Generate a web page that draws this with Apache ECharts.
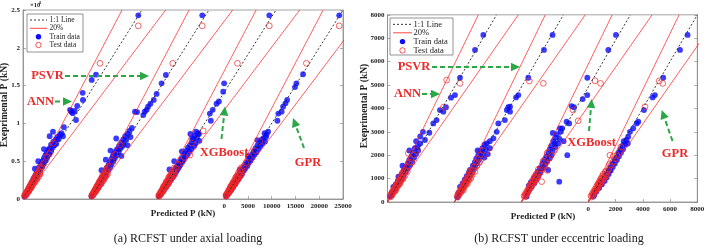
<!DOCTYPE html>
<html><head><meta charset="utf-8">
<script src="https://cdn.jsdelivr.net/npm/echarts@6/dist/echarts.min.js"></script>
<style>html,body{margin:0;padding:0;background:#fff}#c{width:708px;height:248px}</style>
</head><body><div id="c"></div>
<script>
// ---------------- DATA (values in 10^3 kN, pairs = [predicted, experimental]) ----------------
const models = ['ANN', 'PSVR', 'XGBoost', 'GPR'];
const axialXTicks = [0, 5, 10, 15, 20, 25];
const eccXTicks = [0, 2, 4, 6, 8];

// (a) axial loading
const aTrainANN = [[24.25,24.3],[15.35,16.45],[14.45,15.75],[12.55,14.05],[12.6,13.1],[11.4,12.3],[10.9,11.65],[10.1,11.65],[10.45,11.35],[11.15,10.45],[10.2,11.55],[9.9,11.8],
 [8.6,9.5],[8.1,8.7],[7.8,8.5],[8.4,8.3],[7.2,8.2],[7.5,7.9],[6.9,7.9],[6.4,7.6],[7.0,7.3],[6.6,7.1],[5.9,7.2],[6.2,6.8],[5.6,6.7],[5.3,6.5],[5.9,6.3],[5.0,6.1],[5.5,5.9],[4.7,5.8],[5.1,5.5],[4.4,5.4],[4.8,5.1],[4.1,5.0],[4.4,4.7],[3.8,4.6],[4.1,4.3],[3.4,4.2],[3.7,3.9],[3.1,3.8],[3.3,3.5],[2.8,3.4],[3.0,3.1],[2.5,3.0],[2.7,2.8],[2.2,2.7],[2.3,2.4],[1.9,2.3],[2.0,2.1],[1.6,1.9],[1.7,1.7],[1.3,1.5],[1.4,1.3],[1.0,1.2],[1.1,1.0],[0.8,0.9],[0.8,0.7],[0.5,0.6],[0.5,0.45],[0.3,0.35],
 [2.5,4.0],[3.2,5.0],[4.4,6.6],[5.6,8.3],[6.3,8.9]];
const aTestANN = [[24.25,22.9],[16.2,17.95],[6.4,7.4],[5.0,5.6],[4.3,4.7],[5.6,6.0],[3.9,4.3],[3.6,4.0],[3.3,3.6],[3.1,3.3],[2.8,3.1],[2.6,2.8],[2.4,2.6],[2.2,2.3],[2.0,2.1],[1.8,1.9],[1.6,1.7],[1.4,1.5],[1.3,1.3],[1.1,1.15],[0.95,1.0],[0.8,0.85],[0.65,0.7],[0.5,0.55],[0.35,0.4],[3.5,3.3],[2.9,2.7],[2.3,2.1],[1.7,1.55],[1.2,1.05],[2.5,2.9],[1.9,2.2],[1.4,1.65],
 [0.5,0.45],[0.7,0.6],[0.9,0.8],[1.1,0.95],[1.3,1.15],[1.5,1.35],[1.7,1.5],[1.9,1.7],[2.1,1.9],[2.4,2.2],[2.7,2.4],[3.0,2.7],[3.3,3.0],[3.6,3.3],[0.4,0.55],[0.6,0.75],[0.8,0.95],[1.0,1.2],[1.2,1.4],[1.4,1.6],[1.6,1.85],[1.8,2.1],[2.1,2.4],[2.4,2.7],[2.7,3.1],[3.0,3.4],[3.3,3.8],[3.6,4.2]];

const aTrainPSVR = [[23.6,24.3],[15.95,16.4],[15.05,15.3],[14.0,13.9],[13.4,13.1],[12.7,12.6],[12.2,12.2],[11.5,11.55],[11.2,11.1],[9.45,11.55],[9.9,11.5],[11.9,11.8],
 [8.8,9.4],[8.3,9.0],[7.9,8.6],[8.5,8.2],[7.4,8.3],[7.6,7.8],[7.0,7.9],[6.6,7.5],[7.1,7.2],[6.7,6.9],[6.1,7.0],[6.3,6.6],[5.7,6.6],[5.4,6.3],[6.0,6.2],[5.1,6.0],[5.6,5.8],[4.8,5.7],[5.2,5.4],[4.5,5.3],[4.9,5.0],[4.2,4.9],[4.5,4.6],[3.9,4.5],[4.2,4.2],[3.5,4.1],[3.8,3.8],[3.2,3.7],[3.4,3.4],[2.9,3.3],[3.1,3.0],[2.6,2.9],[2.8,2.7],[2.3,2.6],[2.4,2.3],[2.0,2.2],[2.1,2.0],[1.7,1.8],[1.8,1.6],[1.4,1.5],[1.4,1.3],[1.1,1.2],[1.1,1.0],[0.85,0.9],[0.8,0.7],[0.55,0.6],[0.5,0.45],[0.3,0.35],
 [2.4,3.8],[3.3,5.2],[4.3,6.4],[5.5,8.0],[7.9,7.1],[6.6,5.7]];
const aTestPSVR = [[23.6,22.9],[17.4,17.95],[6.3,7.2],[5.3,5.9],[4.6,5.0],[3.9,4.3],[3.6,3.9],[3.3,3.6],[3.0,3.3],[2.8,3.0],[2.6,2.8],[2.4,2.5],[2.2,2.3],[2.0,2.1],[1.8,1.9],[1.6,1.7],[1.4,1.5],[1.25,1.3],[1.1,1.15],[0.95,1.0],[0.8,0.85],[0.65,0.7],[0.5,0.55],[0.35,0.4],[3.4,3.2],[2.9,2.6],[2.3,2.0],[1.7,1.5],[1.2,1.0],[2.6,3.0],[2.0,2.3],[1.5,1.7],
 [0.5,0.42],[0.7,0.62],[0.9,0.8],[1.1,0.98],[1.3,1.15],[1.5,1.32],[1.7,1.52],[1.9,1.72],[2.2,1.95],[2.5,2.2],[2.8,2.45],[3.1,2.8],[3.4,3.05],[3.7,3.35],[0.4,0.52],[0.6,0.72],[0.8,0.95],[1.0,1.18],[1.2,1.42],[1.4,1.62],[1.6,1.88],[1.85,2.15],[2.1,2.45],[2.4,2.75],[2.7,3.1],[3.0,3.45],[3.3,3.85],[3.6,4.15]];

const aTrainXGB = [[23.6,24.3],[14.1,15.3],[13.9,14.2],[13.0,12.9],[12.5,12.6],[11.7,11.8],[11.1,11.3],[11.3,10.35],[8.65,8.7],
 [8.2,8.9],[8.8,8.6],[7.9,8.4],[8.4,8.1],[8.9,7.7],[7.6,7.9],[8.1,7.4],[7.3,7.5],[7.8,7.0],[6.9,7.1],[7.2,6.6],[6.5,6.8],[6.8,6.3],[6.2,6.4],[6.4,5.9],[5.8,6.0],[6.0,5.6],[5.5,5.6],[5.6,5.2],[5.1,5.3],[5.3,4.9],[4.8,4.9],[4.9,4.5],[4.5,4.6],[4.6,4.2],[4.2,4.3],[4.3,3.9],[3.9,4.0],[4.0,3.6],[3.6,3.7],[3.7,3.3],[3.3,3.4],[3.4,3.0],[3.0,3.1],[3.1,2.8],[2.7,2.8],[2.8,2.5],[2.4,2.5],[2.5,2.2],[2.1,2.2],[2.2,1.9],[1.8,1.9],[1.9,1.6],[1.5,1.6],[1.5,1.3],[1.2,1.3],[1.2,1.0],[0.9,1.0],[0.9,0.75],[0.65,0.7],[0.6,0.5],[0.4,0.4],
 [3.6,5.0],[2.6,3.9],[5.2,6.3],[7.0,8.6],[7.4,8.0]];
const aTestXGB = [[23.6,22.9],[16.9,17.95],[9.7,9.0],[7.25,7.4],[6.9,5.8],[5.7,5.5],[4.9,5.1],[4.4,4.6],[3.9,4.1],[3.6,3.8],[3.3,3.5],[3.0,3.2],[2.8,2.9],[2.6,2.7],[2.4,2.4],[2.2,2.2],[2.0,2.0],[1.8,1.8],[1.6,1.6],[1.4,1.45],[1.25,1.3],[1.1,1.1],[0.95,0.95],[0.8,0.8],[0.65,0.65],[0.5,0.5],[0.35,0.38],[3.5,3.2],[2.9,2.6],[2.3,2.0],[1.7,1.5],[1.2,1.0],[2.5,2.9],[1.9,2.2],[1.4,1.7],
 [0.5,0.44],[0.7,0.6],[0.9,0.78],[1.1,0.96],[1.3,1.14],[1.5,1.33],[1.7,1.5],[1.9,1.68],[2.2,1.92],[2.5,2.2],[2.8,2.46],[3.1,2.75],[3.4,3.0],[3.7,3.3],[0.4,0.53],[0.6,0.74],[0.8,0.94],[1.0,1.16],[1.2,1.38],[1.4,1.6],[1.6,1.84],[1.85,2.12],[2.1,2.42],[2.4,2.74],[2.7,3.08],[3.0,3.42],[3.3,3.78],[3.6,4.1]];

const aTrainGPR = [[24.2,24.3],[16.6,16.5],[15.2,15.3],[14.9,14.8],[13.25,13.1],[12.9,12.65],[12.4,12.2],[12.1,11.55],[11.4,11.3],[11.2,10.35],[9.25,8.9],[8.9,8.5],
 [8.5,8.7],[8.8,8.2],[8.2,8.0],[8.6,7.6],[7.8,7.8],[8.0,7.3],[7.4,7.5],[7.6,7.0],[7.0,7.1],[7.2,6.6],[6.6,6.7],[6.8,6.2],[6.2,6.3],[6.4,5.9],[5.9,5.9],[6.0,5.5],[5.5,5.5],[5.6,5.1],[5.1,5.2],[5.2,4.8],[4.8,4.8],[4.9,4.4],[4.4,4.5],[4.5,4.1],[4.1,4.1],[4.2,3.8],[3.8,3.8],[3.8,3.4],[3.4,3.5],[3.5,3.1],[3.1,3.2],[3.1,2.8],[2.8,2.9],[2.8,2.5],[2.5,2.6],[2.5,2.2],[2.2,2.3],[2.2,1.9],[1.9,2.0],[1.9,1.6],[1.6,1.7],[1.6,1.3],[1.3,1.4],[1.3,1.05],[1.0,1.1],[1.0,0.8],[0.75,0.8],[0.7,0.55],[0.5,0.5],[0.45,0.35],
 [3.3,3.9],[5.0,5.7],[7.0,7.8]];
const aTestGPR = [[24.2,22.9],[17.3,17.95],[7.5,7.6],[6.5,6.4],[5.3,5.5],[4.6,4.8],[4.1,4.3],[3.7,3.9],[3.4,3.6],[3.1,3.3],[2.9,3.0],[2.7,2.8],[2.5,2.5],[2.3,2.3],[2.1,2.1],[1.9,1.9],[1.7,1.7],[1.5,1.5],[1.3,1.3],[1.15,1.15],[1.0,1.0],[0.85,0.85],[0.7,0.7],[0.55,0.55],[0.4,0.4],[3.5,3.2],[2.9,2.6],[2.3,2.0],[1.7,1.5],[1.2,1.0],[2.5,2.9],[1.9,2.2],[1.4,1.7],
 [0.5,0.43],[0.7,0.61],[0.9,0.79],[1.1,0.97],[1.3,1.16],[1.5,1.34],[1.7,1.51],[1.9,1.69],[2.2,1.94],[2.5,2.21],[2.8,2.47],[3.1,2.74],[3.4,3.02],[3.7,3.32],[0.4,0.54],[0.6,0.73],[0.8,0.96],[1.0,1.17],[1.2,1.4],[1.4,1.61],[1.6,1.86],[1.85,2.13],[2.1,2.43],[2.4,2.76],[2.7,3.09],[3.0,3.44],[3.3,3.8],[3.6,4.12]];

// (b) eccentric loading
const bTrainANN = [[7.03,7.14],[6.42,6.5],[5.32,5.31],[4.95,4.57],[4.66,4.46],[4.29,4.05],[3.85,3.93],[4.1,3.86],[3.6,3.5],[3.36,3.36],[3.07,2.96],[2.75,2.65],[2.4,2.8],[2.4,2.5],[2.2,2.36],
 [2.25,2.2],[2.0,2.3],[2.1,2.05],[1.85,2.1],[1.95,1.9],[1.75,1.95],[1.8,1.75],[1.6,1.8],[1.65,1.6],[1.5,1.65],[1.5,1.45],[1.35,1.5],[1.28,1.44],[1.35,1.3],[1.2,1.35],[1.2,1.15],[1.05,1.2],[1.05,1.0],[0.9,1.05],[0.8,1.08],[0.9,0.88],[0.75,0.9],[0.75,0.72],[0.6,0.75],[0.6,0.58],[0.43,0.65],[0.45,0.45],[0.32,0.42],[0.3,0.3],[0.18,0.23],
 [1.6,2.2],[2.1,2.6],[2.6,3.0],[1.1,1.55]];
const bTestANN = [[4.34,5.21],[5.32,5.07],[4.1,4.05],[1.53,2.08],[2.1,2.2],[1.9,2.0],[1.7,1.85],[1.55,1.7],[1.6,1.55],[1.4,1.5],[1.3,1.35],[1.2,1.25],[1.1,1.15],[1.0,1.05],[0.95,0.95],[0.85,0.9],[0.8,0.8],[0.7,0.75],[0.65,0.68],[0.55,0.6],[0.5,0.52],[0.4,0.45],[0.3,0.35],[1.8,1.7],[1.45,1.3],[1.15,1.0],[0.9,0.78],[0.6,0.5],
 [0.25,0.22],[0.35,0.3],[0.45,0.4],[0.55,0.48],[0.65,0.58],[0.75,0.67],[0.85,0.76],[0.95,0.85],[1.05,0.95],[1.15,1.05],[1.3,1.15],[0.2,0.28],[0.3,0.38],[0.4,0.48],[0.5,0.58],[0.6,0.68],[0.7,0.78],[0.8,0.9],[0.9,1.0],[1.0,1.12],[1.1,1.25],[1.2,1.35]];

const bTrainPSVR = [[7.2,7.14],[6.57,6.5],[5.42,5.31],[4.69,4.57],[4.52,4.47],[4.08,4.07],[3.95,4.05],[3.84,3.93],[4.08,3.86],[3.7,3.5],[3.22,3.36],[3.1,3.0],[2.86,2.72],[2.6,2.6],
 [2.37,2.5],[2.2,2.45],[2.3,2.25],[2.05,2.3],[2.1,2.1],[1.9,2.15],[1.95,1.95],[1.75,2.0],[1.8,1.8],[1.6,1.85],[1.65,1.65],[1.5,1.7],[1.5,1.5],[1.35,1.55],[1.35,1.35],[1.14,1.37],[1.2,1.2],[1.05,1.25],[1.05,1.05],[0.9,1.1],[0.9,0.9],[0.75,0.95],[0.75,0.75],[0.6,0.8],[0.6,0.6],[0.41,0.65],[0.45,0.45],[0.3,0.4],[0.3,0.3],[0.2,0.2],
 [2.6,2.3],[2.45,2.05],[1.7,2.2],[2.2,1.9]];
const bTestPSVR = [[5.5,5.17],[6.52,5.07],[2.1,2.2],[1.9,2.0],[1.75,1.85],[1.6,1.7],[1.65,1.55],[1.45,1.5],[1.35,1.35],[1.25,1.25],[1.15,1.15],[1.05,1.05],[0.95,0.95],[0.85,0.88],[0.8,0.8],[0.7,0.72],[0.65,0.65],[0.55,0.58],[0.5,0.5],[0.4,0.42],[0.3,0.33],[1.85,1.7],[1.5,1.3],[1.2,1.0],[0.95,0.78],[0.65,0.5],
 [0.25,0.21],[0.35,0.31],[0.45,0.39],[0.55,0.49],[0.65,0.57],[0.75,0.66],[0.85,0.75],[0.95,0.86],[1.05,0.94],[1.15,1.04],[1.3,1.16],[0.2,0.27],[0.3,0.37],[0.4,0.47],[0.5,0.57],[0.6,0.69],[0.7,0.79],[0.8,0.91],[0.9,1.01],[1.0,1.13],[1.1,1.24],[1.2,1.36]];

const bTrainXGB = [[6.94,7.14],[6.38,6.5],[4.84,5.31],[4.5,4.4],[4.84,4.57],[3.69,4.1],[3.86,4.05],[3.32,3.43],[3.51,3.36],[2.83,3.15],[3.0,3.15],[3.37,2.0],[2.78,0.87],[1.97,1.37],
 [2.3,2.95],[2.6,2.9],[2.5,2.75],[2.8,2.7],[2.35,2.6],[2.7,2.5],[2.46,2.5],[2.2,2.4],[2.5,2.35],[2.1,2.25],[2.3,2.2],[2.0,2.1],[2.2,2.0],[2.09,1.87],[1.85,1.95],[1.9,1.75],[1.7,1.8],[1.75,1.6],[1.55,1.65],[1.6,1.45],[1.49,1.44],[1.35,1.45],[1.4,1.25],[1.2,1.3],[1.25,1.1],[1.05,1.15],[1.1,0.95],[0.9,1.0],[0.95,0.8],[0.76,0.65],[0.7,0.85],[0.6,0.55],[0.55,0.7],[0.45,0.4],[0.39,0.23],[2.9,3.0],[3.1,2.6]];
const bTestXGB = [[5.4,5.18],[5.81,5.07],[3.8,3.93],[4.17,3.47],[1.49,0.87],[2.4,2.2],[2.2,2.0],[2.0,1.85],[1.85,1.7],[1.7,1.55],[1.55,1.4],[1.4,1.3],[1.3,1.2],[1.2,1.1],[1.1,1.0],[1.0,0.9],[0.9,0.8],[0.8,0.75],[0.7,0.65],[0.6,0.55],[0.5,0.45],[0.4,0.35],[0.3,0.28],[1.9,2.1],[1.6,1.75],[1.25,1.4],[0.95,1.05],[0.65,0.75],[1.9,1.35],
 [0.25,0.22],[0.35,0.3],[0.45,0.41],[0.55,0.5],[0.65,0.6],[0.75,0.7],[0.85,0.79],[0.95,0.88],[1.05,0.97],[1.15,1.07],[0.2,0.27],[0.3,0.36],[0.4,0.46],[0.5,0.56],[0.6,0.66],[0.7,0.77],[0.8,0.88],[0.9,0.98],[1.0,1.1],[1.1,1.2]];

const bTrainGPR = [[7.29,7.14],[6.73,6.5],[5.5,5.31],[4.89,4.57],[4.72,4.47],[4.09,3.93],[3.67,3.43],[3.55,3.36],[3.3,3.15],[3.06,3.0],[2.93,2.79],
 [2.8,2.65],[2.6,2.6],[2.7,2.45],[2.5,2.4],[2.55,2.25],[2.35,2.25],[2.4,2.1],[2.2,2.1],[2.25,1.95],[2.08,1.9],[2.1,1.8],[1.95,1.8],[1.95,1.65],[1.8,1.65],[1.8,1.5],[1.65,1.5],[1.65,1.35],[1.5,1.35],[1.5,1.2],[1.35,1.2],[1.35,1.05],[1.2,1.05],[1.2,0.9],[1.05,0.9],[1.0,0.75],[0.9,0.75],[0.86,0.87],[0.8,0.6],[0.7,0.6],[0.6,0.45],[0.5,0.45],[0.45,0.3],[0.37,0.23],[1.59,1.37],[2.9,2.5]];
const bTestGPR = [[5.46,5.07],[5.21,5.18],[4.16,4.07],[1.59,2.0],[2.3,2.15],[2.1,2.0],[1.95,1.85],[1.8,1.7],[1.65,1.55],[1.5,1.4],[1.4,1.3],[1.3,1.2],[1.2,1.1],[1.1,1.0],[1.0,0.9],[0.9,0.82],[0.8,0.75],[0.72,0.68],[0.65,0.6],[0.55,0.5],[0.45,0.42],[0.35,0.33],[1.85,1.95],[1.55,1.6],[1.25,1.3],[0.95,1.0],[0.7,0.75],[2.4,2.35],
 [0.25,0.21],[0.35,0.29],[0.45,0.39],[0.55,0.47],[0.65,0.56],[0.75,0.65],[0.85,0.74],[0.95,0.83],[1.05,0.92],[1.15,1.01],[1.3,1.12],[0.2,0.26],[0.3,0.36],[0.4,0.46],[0.5,0.56],[0.6,0.66],[0.7,0.76],[0.8,0.87],[0.9,0.97],[1.0,1.08],[1.1,1.19]];

// ---------------- LAYOUT / STYLE ----------------
const BLUE = '#0a0aff', RED = '#ee2a2a', LRED = '#ff1a1a', GREEN = '#2aa845', GRAY = '#8a8a8a';
const SERIF = '"Liberation Serif", "DejaVu Serif", serif';
// horizontal shift of each model's sub-plot along the shared x axis (layout, 10^3 kN)
const aShift = [-42.3, -28.2, -14.1, 0];
const bShift = [-14.73, -9.82, -4.91, 0];
const aMax = 25, bMax = 8;

const series = [];
function panel(gi, shift, top, sets) {
  sets.forEach((s, k) => {
    const o = shift[k];
    const mv = d => [d[0] + o, d[1]];
    series.push({ type: 'scatter', name: 'Train data', xAxisIndex: gi, yAxisIndex: gi * 2, data: s[0].map(mv),
      symbol: 'circle', symbolSize: 5.8, itemStyle: { color: BLUE }, z: 2, silent: true });
    series.push({ type: 'scatter', name: 'Test data', xAxisIndex: gi, yAxisIndex: gi * 2, data: s[1].map(mv),
      symbol: 'circle', symbolSize: 5.8, itemStyle: { color: 'rgba(0,0,0,0)', borderColor: RED, borderWidth: 0.9 }, z: 3, silent: true });
    const ln = (pts, style) => series.push({ type: 'line', xAxisIndex: gi, yAxisIndex: gi * 2, data: pts, symbol: 'none',
      lineStyle: style, z: 4, silent: true, clip: true });
    ln([[o, 0], [o + top, top]], { color: '#222', width: 0.9, type: [2, 2] });
    ln([[o, 0], [o + top / 1.2, top]], { color: LRED, width: 0.7 });
    ln([[o, 0], [o + top * 1.2, top]], { color: LRED, width: 0.7 });
  });
}
panel(0, aShift, aMax, [[aTrainANN, aTestANN], [aTrainPSVR, aTestPSVR], [aTrainXGB, aTestXGB], [aTrainGPR, aTestGPR]]);
panel(1, bShift, bMax, [[bTrainANN, bTestANN], [bTrainPSVR, bTestPSVR], [bTrainXGB, bTestXGB], [bTrainGPR, bTestGPR]]);

const tickFont = { fontFamily: SERIF, fontWeight: 'bold', fontSize: 7, color: '#222' };
function xAx(gi, min, max, ticks) {
  return { type: 'value', gridIndex: gi, min: min, max: max,
    axisLine: { show: true, onZero: false, lineStyle: { color: GRAY, width: 0.8 } },
    axisTick: { show: true, inside: true, length: 3, customValues: ticks, lineStyle: { color: GRAY, width: 0.7 } },
    axisLabel: Object.assign({ customValues: ticks, margin: 4, formatter: v => String(Math.round(v * 1000)) }, tickFont),
    splitLine: { show: false } };
}
function yAx(gi, max, interval, fmt, right) {
  return { type: 'value', gridIndex: gi, min: 0, max: max, interval: interval, position: right ? 'right' : 'left',
    axisLine: { show: true, onZero: false, lineStyle: { color: GRAY, width: 0.8 } },
    axisTick: { show: true, inside: true, length: 3, lineStyle: { color: GRAY, width: 0.7 } },
    axisLabel: Object.assign({ show: !right, margin: 3, formatter: fmt }, tickFont),
    splitLine: { show: false } };
}

// ---- annotations ----
const graphic = [];
function txt(x, y, s, size, opt) {
  graphic.push(Object.assign({ type: 'text', x: x, y: y, silent: true, z: 100,
    style: Object.assign({ text: s, font: (opt && opt.bold ? 'bold ' : '') + size + 'px ' + SERIF, fill: '#222', align: 'center', verticalAlign: 'middle' }, opt && opt.style) },
    opt && opt.extra));
}
function arrow(x1, y1, x2, y2) {
  const dx = x2 - x1, dy = y2 - y1, L = Math.hypot(dx, dy), ux = dx / L, uy = dy / L;
  const hl = 9, hw = 4.3;
  const bx = x2 - ux * hl, by = y2 - uy * hl;
  graphic.push({ type: 'line', silent: true, z: 100, shape: { x1: x1, y1: y1, x2: bx, y2: by },
    style: { stroke: GREEN, lineWidth: 2, lineDash: [5, 3] } });
  graphic.push({ type: 'polygon', silent: true, z: 100, shape: { points: [[x2, y2], [bx - uy * hw, by + ux * hw], [bx + uy * hw, by - ux * hw]] },
    style: { fill: GREEN } });
}
function redLabel(x, y, s) { txt(x, y, s, 12.5, { bold: true, style: { fill: RED } }); }

// panel (a)
redLabel(47.5, 76, 'PSVR'); arrow(65, 76, 149, 76);
redLabel(40.5, 101.5, 'ANN'); arrow(55, 101.5, 72, 101.5);
redLabel(224, 152.5, 'XGBoost'); arrow(221.5, 139, 225, 106.5);
redLabel(308, 163, 'GPR'); arrow(304, 148, 293, 118);
// panel (b)
redLabel(414, 67, 'PSVR'); arrow(432, 67, 520, 67);
redLabel(407.5, 93.5, 'ANN'); arrow(422, 94, 440, 94);
redLabel(591.5, 143, 'XGBoost'); arrow(589, 131, 591.7, 99);
redLabel(675, 154, 'GPR'); arrow(672.5, 141, 661.7, 110);

// axis names
txt(183, 214, 'Predicted P (kN)', 9, { bold: true });
txt(543, 216.5, 'Predicted P (kN)', 9, { bold: true });
txt(4.5, 105, 'Exeprimental P (kN)', 9.5, { bold: true, extra: { rotation: Math.PI / 2 } });
txt(364.5, 106, 'Exeprimental P (kN)', 9.5, { bold: true, extra: { rotation: Math.PI / 2 } });
// x10^4 exponent
txt(30, 5.5, '\u00d710', 6.5, { bold: true, style: { align: 'left' } });
txt(38.6, 3, '4', 4.8, { bold: true, style: { align: 'left' } });
// captions
txt(188, 238.5, '(a) RCFST under axial loading', 12, { style: { fill: '#1a1a1a' } });
txt(559, 238.5, '(b) RCFST under eccentric loading', 12, { style: { fill: '#1a1a1a' } });

// legends
function legend(x, y, w, h, sx, tx, rows, fs) {
  graphic.push({ type: 'rect', silent: true, z: 90, shape: { x: x, y: y, width: w, height: h }, style: { fill: '#fff', stroke: '#666', lineWidth: 0.7 } });
  const labels = ['1:1 Line', '20%', 'Train data', 'Test data'];
  const cx = (sx[0] + sx[1]) / 2;
  graphic.push({ type: 'line', silent: true, z: 91, shape: { x1: sx[0], y1: rows[0], x2: sx[1], y2: rows[0] }, style: { stroke: '#222', lineWidth: 0.9, lineDash: [2, 2] } });
  graphic.push({ type: 'line', silent: true, z: 91, shape: { x1: sx[0], y1: rows[1], x2: sx[1], y2: rows[1] }, style: { stroke: LRED, lineWidth: 0.8 } });
  graphic.push({ type: 'circle', silent: true, z: 91, shape: { cx: cx, cy: rows[2], r: 2.7 }, style: { fill: BLUE } });
  graphic.push({ type: 'circle', silent: true, z: 91, shape: { cx: cx, cy: rows[3], r: 2.7 }, style: { fill: 'none', stroke: RED, lineWidth: 0.8 } });
  labels.forEach((l, i) => txt(tx, rows[i], l, fs, { style: { align: 'left' } }));
}
legend(27, 14, 56, 38, [30, 47], 49.5, [20, 28.3, 36.7, 45], 7.5);
legend(390, 18, 63, 37, [393, 412], 413.5, [24.3, 32.8, 41.6, 50.4], 8.5);

const chart = echarts.init(document.getElementById('c'), null, { renderer: 'canvas' });
chart.setOption({
  animation: false,
  backgroundColor: '#fff',
  grid: [
    { left: 23, top: 10, width: 320, height: 189, show: true, borderColor: GRAY, borderWidth: 0.8, backgroundColor: 'transparent' },
    { left: 387.5, top: 14.8, width: 309.8, height: 187.2, show: true, borderColor: GRAY, borderWidth: 0.8, backgroundColor: 'transparent' }
  ],
  xAxis: [xAx(0, aShift[0], aMax, axialXTicks), xAx(1, bShift[0], bMax, eccXTicks)],
  yAxis: [
    yAx(0, aMax, 5, v => v === 0 ? '0' : String(v / 10), false),
    yAx(0, aMax, 5, null, true),
    yAx(1, bMax, 1, v => String(Math.round(v * 1000)), false),
    yAx(1, bMax, 1, null, true)
  ],
  series: series,
  graphic: graphic
});
</script>
</body></html>
